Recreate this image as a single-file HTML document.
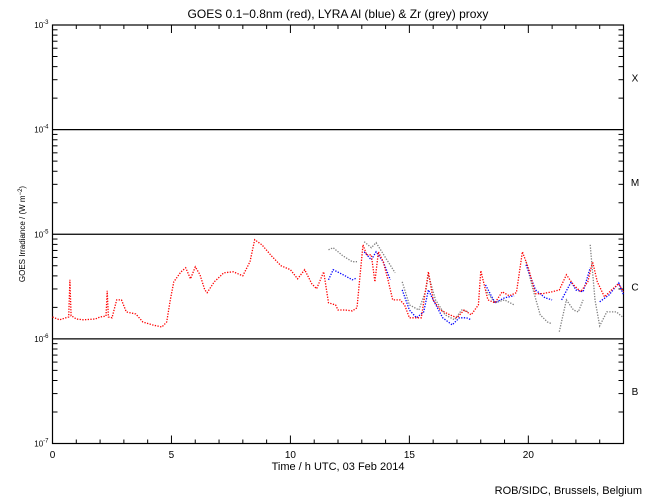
<!DOCTYPE html>
<html><head><meta charset="utf-8"><style>
body{margin:0;background:#fff}
svg{display:block;font-family:"Liberation Sans",sans-serif}
</style></head><body>
<svg id="chart" width="650" height="500" viewBox="0 0 650 500">
<rect x="0" y="0" width="650" height="500" fill="#fff"/>
<text x="338" y="18" font-size="12" text-anchor="middle">GOES 0.1−0.8nm (red), LYRA Al (blue) &amp; Zr (grey) proxy</text>
<text x="338" y="470" font-size="11" text-anchor="middle">Time / h UTC, 03 Feb 2014</text>
<text transform="translate(25,234) rotate(-90)" font-size="8" text-anchor="middle">GOES Irradiance / (W m<tspan dy="-3" font-size="6">−2</tspan><tspan dy="3">)</tspan></text>
<text x="642" y="494" font-size="11" text-anchor="end">ROB/SIDC, Brussels, Belgium</text>
<g id="axes"></g>
<g id="series"></g>
</svg>
<script>
const hours=[0,5,10,15,20];
const decadeExp=[-3,-4,-5,-6,-7];
const flareClasses=['X','M','C','B'];
// values in units of 1e-6 W/m^2 (C1 = 1)
const redT=[0,0.3,0.6,0.68,0.73,0.78,0.8,1.0,1.3,1.8,2.0,2.25,2.3,2.35,2.5,2.7,2.9,3.1,3.5,3.8,4.2,4.6,4.8,4.95,5.1,5.4,5.6,5.8,6.0,6.2,6.4,6.5,6.8,7.2,7.6,8.0,8.3,8.5,8.8,9.2,9.6,10.0,10.3,10.6,10.9,11.1,11.4,11.6,11.9,12.0,12.3,12.6,12.8,12.95,13.05,13.2,13.4,13.55,13.7,13.9,14.1,14.3,14.6,14.8,15.0,15.5,15.8,16.0,16.3,16.7,17.0,17.3,17.6,17.9,18.0,18.3,18.6,18.9,19.2,19.5,19.75,20.0,20.3,20.6,21.0,21.3,21.6,21.9,22.2,22.5,22.7,22.9,23.2,23.5,23.8,24];
const redV=[1.62,1.52,1.6,1.62,3.67,1.66,1.66,1.55,1.52,1.55,1.62,1.65,2.88,1.62,1.59,2.36,2.36,1.81,1.73,1.45,1.36,1.30,1.45,2.36,3.51,4.38,4.78,3.75,4.89,4.10,2.94,2.76,3.51,4.28,4.38,4.01,5.46,8.87,7.93,6.22,5.00,4.58,3.75,4.58,3.36,3.01,4.38,2.21,2.11,1.89,1.89,1.85,1.98,4.58,7.93,6.36,6.36,3.51,6.80,5.46,3.67,2.36,2.36,2.11,1.59,1.59,4.38,2.36,1.89,1.70,1.59,1.89,1.70,2.11,4.48,2.36,2.21,2.82,2.58,2.76,6.80,4.78,2.70,2.70,2.82,2.94,4.10,3.28,2.82,3.51,5.46,3.51,2.52,2.94,3.36,2.82];
const blueT=[11.6,11.8,12.3,12.6,12.8,null,13.1,13.4,13.6,13.9,14.2,null,14.7,15.0,15.3,15.6,15.8,16.0,16.4,16.8,17.1,17.4,17.6,null,18.2,18.6,19.0,19.4,null,19.9,20.3,20.7,21.0,null,21.4,21.8,22.0,22.3,22.6,null,23.0,23.4,23.8,24];
const blueV=[3.67,4.58,4.01,3.67,3.83,null,6.80,5.70,6.80,5.46,3.67,null,2.94,1.89,1.59,1.81,2.94,2.36,1.59,1.36,1.59,1.59,1.52,null,3.28,2.21,2.47,2.58,null,5.11,2.94,2.47,2.36,null,2.36,3.51,2.94,2.82,4.78,null,2.26,2.64,3.43,2.64];
const greyT=[11.6,11.8,12.2,12.6,12.8,null,13.1,13.4,13.6,14.0,14.4,null,14.7,15.0,15.4,15.7,15.8,16.1,16.5,16.9,17.2,17.5,null,18.2,18.6,19.0,19.4,null,19.9,20.2,20.5,20.8,21.0,null,21.3,21.6,21.9,22.1,22.3,null,22.6,22.8,23.0,23.3,23.7,24];
const greyV=[7.10,7.43,6.22,5.46,5.46,null,8.48,7.43,8.31,5.95,4.28,null,3.51,2.11,1.89,2.94,4.10,2.36,1.70,1.52,1.89,1.81,null,2.94,2.21,2.36,2.11,null,5.46,2.94,1.70,1.45,1.39,null,1.17,2.36,1.89,1.81,2.36,null,7.93,2.36,1.33,1.81,1.81,1.59];

const X0=52.5,X1=623.5,YT=25,YB=443.5;
const xs=t=>X0+(X1-X0)*t/24;
const ys=v=>YB-(YB-YT)*(Math.log10(v*1e-6)+7)/4;
const NS='http://www.w3.org/2000/svg';
const axes=document.getElementById('axes'),ser=document.getElementById('series');
function mk(tag,at,parent){const e=document.createElementNS(NS,tag);for(const k in at)e.setAttribute(k,at[k]);parent.appendChild(e);return e;}
let frame=mk('rect',{x:X0,y:YT,width:X1-X0,height:YB-YT,fill:'none',stroke:'#000','stroke-width':1.2},axes);


decadeExp.forEach((e,i)=>{
  const y=YT+(YB-YT)*i/4;
  if(i>0&&i<4){const l=mk('line',{x1:X0,x2:X1,y1:y,y2:y,stroke:'#000','stroke-width':1.2},axes);
    
    }
  const t=mk('text',{x:X0-4,y:y+3,'font-size':8,'text-anchor':'end'},axes);
  
  
  t.innerHTML='10<tspan dy="-4" font-size="6">'+e+'</tspan>';
  if(i<4){for(let m=2;m<=9;m++){const yy=y+(YB-YT)/4*(1-Math.log10(m));
    mk('line',{x1:X0,x2:X0+5,y1:yy,y2:yy,stroke:'#000'},axes);
    mk('line',{x1:X1,x2:X1-5,y1:yy,y2:yy,stroke:'#000'},axes);}}
});
flareClasses.forEach((c,i)=>{
  const t=mk('text',{x:635,y:YT+(YB-YT)*(i+0.5)/4+4,'font-size':10,'text-anchor':'middle'},axes);
  
  
  t.textContent=c;
});
for(let h=1;h<24;h++){const x=xs(h),L=(h%5===0)?8:4;
  mk('line',{x1:x,x2:x,y1:YB,y2:YB-L,stroke:'#000'},axes);
  mk('line',{x1:x,x2:x,y1:YT,y2:YT+L,stroke:'#000'},axes);}
hours.forEach(h=>{const t=mk('text',{x:xs(h),y:458,'font-size':10,'text-anchor':'middle'},axes);
  
  
  t.textContent=h;});
function drawSeries(T,V,color,name){
  let pts=[];
  const flush=()=>{if(pts.length>1){const p=mk('polyline',{points:pts.join(' '),fill:'none',stroke:color,'stroke-width':1.3,'stroke-dasharray':'1.3 1.4'},ser);
    
    }pts=[];};
  for(let i=0;i<T.length;i++){if(T[i]===null){flush();continue;}pts.push(xs(T[i]).toFixed(1)+','+ys(V[i]).toFixed(1));}
  flush();
}
drawSeries(greyT,greyV,'#808080','lyra-zr-series');
drawSeries(blueT,blueV,'#0000ff','lyra-al-series');
drawSeries(redT,redV,'#ff0000','goes-series');
</script>
</body></html>
